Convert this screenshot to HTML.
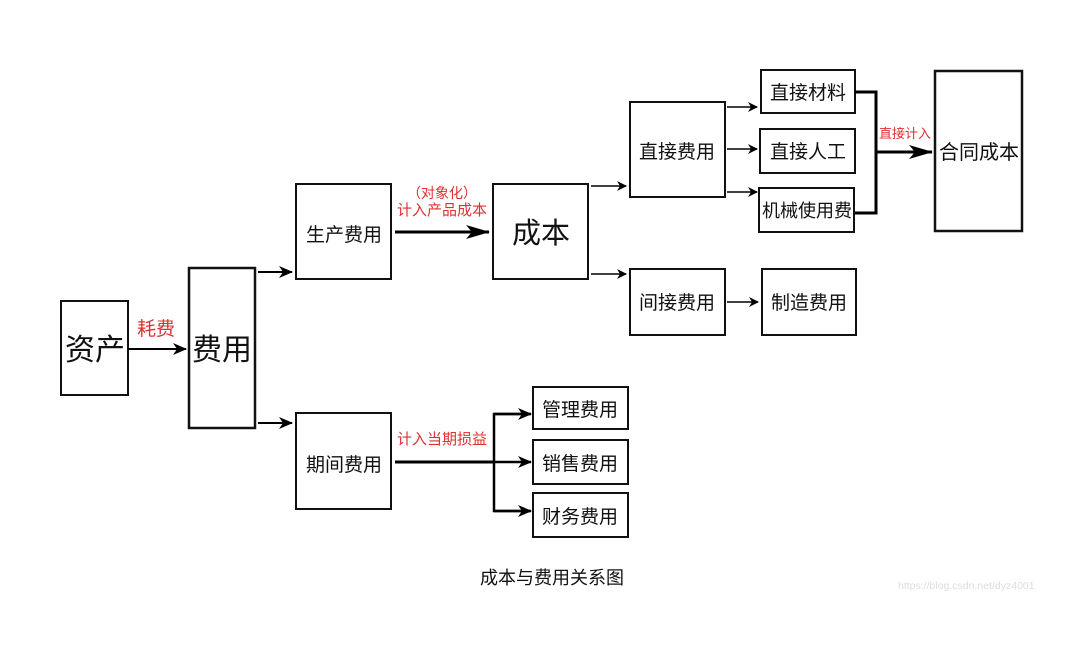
<!DOCTYPE html>
<html><head><meta charset="utf-8"><style>
html,body{margin:0;padding:0;background:#fff;}
svg text{font-family:"Liberation Sans","Noto Sans CJK SC",sans-serif;}
</style></head><body>
<svg width="1080" height="654" viewBox="0 0 1080 654" xmlns="http://www.w3.org/2000/svg">
<defs>
<marker id="a" markerWidth="10" markerHeight="10" refX="9" refY="5" orient="auto" markerUnits="userSpaceOnUse">
<path d="M0,0 L10,5 L0,10 L3,5 Z" fill="#000"/></marker>
<marker id="b" markerWidth="24" markerHeight="14" refX="23" refY="7" orient="auto" markerUnits="userSpaceOnUse">
<path d="M0,0 L24,7 L0,14 L6,7 Z" fill="#000"/></marker>
<marker id="c" markerWidth="14" markerHeight="12" refX="13" refY="6" orient="auto" markerUnits="userSpaceOnUse">
<path d="M0,0 L14,6 L0,12 L4,6 Z" fill="#000"/></marker>
</defs>
<g fill="none" stroke="#111" stroke-width="2">
<rect x="61" y="301" width="67" height="94"/>
<rect x="189" y="268" width="66" height="160" stroke-width="2.5"/>
<rect x="296" y="184" width="95" height="95"/>
<rect x="296" y="413" width="95" height="96"/>
<rect x="493" y="184" width="95" height="95"/>
<rect x="630" y="102" width="95" height="95"/>
<rect x="630" y="269" width="95" height="66"/>
<rect x="761" y="70" width="94" height="43"/>
<rect x="760" y="129" width="95" height="44"/>
<rect x="759" y="188" width="95" height="44"/>
<rect x="762" y="269" width="94" height="66"/>
<rect x="935" y="71" width="87" height="160" stroke-width="2.5"/>
<rect x="533" y="387" width="95" height="42"/>
<rect x="533" y="440" width="95" height="44"/>
<rect x="533" y="493" width="95" height="44"/>
</g>
<g stroke="#000" fill="none">
<line x1="128" y1="349" x2="186" y2="349" stroke-width="2" marker-end="url(#c)"/>
<line x1="258" y1="272" x2="292" y2="272" stroke-width="2" marker-end="url(#c)"/>
<line x1="258" y1="423" x2="292" y2="423" stroke-width="2" marker-end="url(#c)"/>
<line x1="395" y1="232" x2="489" y2="232" stroke-width="3" marker-end="url(#b)"/>
<line x1="591" y1="186" x2="626" y2="186" stroke-width="1.5" marker-end="url(#a)"/>
<line x1="591" y1="274" x2="626" y2="274" stroke-width="1.5" marker-end="url(#a)"/>
<line x1="727" y1="107" x2="757" y2="107" stroke-width="1.5" marker-end="url(#a)"/>
<line x1="727" y1="149" x2="757" y2="149" stroke-width="1.5" marker-end="url(#a)"/>
<line x1="727" y1="192" x2="757" y2="192" stroke-width="1.5" marker-end="url(#a)"/>
<line x1="727" y1="302" x2="758" y2="302" stroke-width="1.5" marker-end="url(#a)"/>
<polyline points="855,92 876,92 876,213 855,213" stroke-width="3"/>
<line x1="876" y1="152" x2="932" y2="152" stroke-width="3" marker-end="url(#b)"/>
<line x1="395" y1="462" x2="494" y2="462" stroke-width="3"/>
<polyline points="530,414 494,414 494,511 530,511" stroke-width="2.5"/>
<line x1="494" y1="414" x2="531" y2="414" stroke-width="2.5" marker-end="url(#c)"/>
<line x1="494" y1="462" x2="531" y2="462" stroke-width="2.5" marker-end="url(#c)"/>
<line x1="494" y1="511" x2="531" y2="511" stroke-width="2.5" marker-end="url(#c)"/>
</g>
<g fill="#111" text-anchor="middle">
<text x="95" y="360" font-size="30">资产</text>
<text x="222" y="360" font-size="30">费用</text>
<text x="344" y="241" font-size="19">生产费用</text>
<text x="344" y="471" font-size="19">期间费用</text>
<text x="541" y="243" font-size="29">成本</text>
<text x="677" y="158" font-size="19">直接费用</text>
<text x="677" y="309" font-size="19">间接费用</text>
<text x="808" y="99" font-size="19">直接材料</text>
<text x="808" y="158" font-size="19">直接人工</text>
<text x="807" y="217" font-size="18">机械使用费</text>
<text x="809" y="309" font-size="19">制造费用</text>
<text x="979" y="159" font-size="20">合同成本</text>
<text x="580" y="416" font-size="19">管理费用</text>
<text x="580" y="470" font-size="19">销售费用</text>
<text x="580" y="523" font-size="19">财务费用</text>
<text x="552" y="584" font-size="18">成本与费用关系图</text>
</g>
<g fill="#e03030" text-anchor="middle">
<text x="156" y="335" font-size="19">耗费</text>
<text x="442" y="198" font-size="14">（对象化）</text>
<text x="442" y="215" font-size="15">计入产品成本</text>
<text x="442" y="444" font-size="15">计入当期损益</text>
<text x="905" y="138" font-size="13">直接计入</text>
</g>
<text x="898" y="589" font-size="10.5" fill="#ddd">https://blog.csdn.net/dyz4001</text>
</svg>
</body></html>
